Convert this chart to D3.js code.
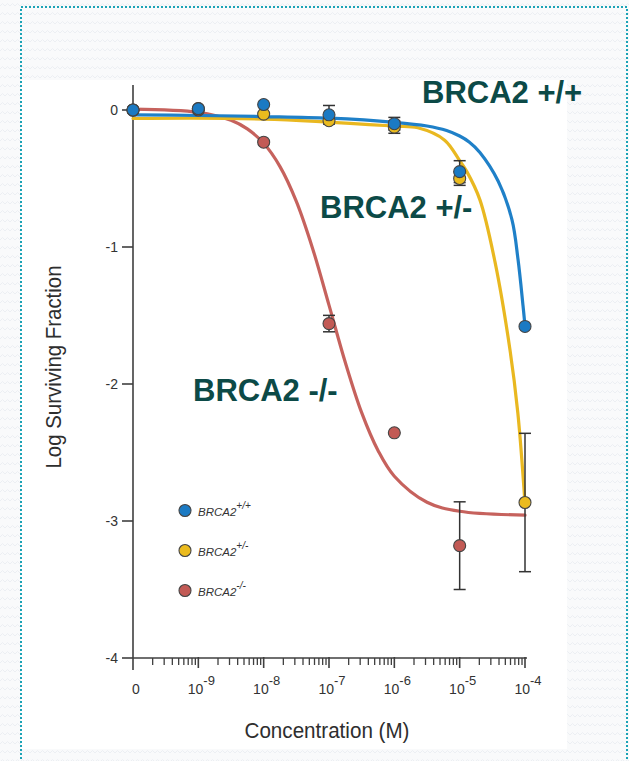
<!DOCTYPE html>
<html>
<head>
<meta charset="utf-8">
<script src="https://cdn.jsdelivr.net/npm/d3@7/dist/d3.min.js"></script>
<style>
  html, body { margin: 0; padding: 0; background: #ffffff; }
  svg { display: block; }
  text { font-family: "Liberation Sans", Arial, Helvetica, sans-serif; }
</style>
</head>
<body>
<svg id="chart" width="629" height="761"></svg>
<script>
// Concentrations tested (M); the lowest is the untreated control, labelled "0"
const concentrations = [1e-10, 1e-9, 1e-8, 1e-7, 1e-6, 1e-5, 1e-4];
const xTickBase = ["0", "10", "10", "10", "10", "10", "10"];
const xTickExp = ["", "-9", "-8", "-7", "-6", "-5", "-4"];
const yTicks = [0, -1, -2, -3, -4];

// Measured log surviving fraction (mean) and error per genotype
const wtValues  = [0, 0.01, 0.04, -0.035, -0.10, -0.45, -1.58];
const wtErrors  = [0, 0, 0, 0.068, 0.046, 0.08, 0];
const hetValues = [0, 0.01, -0.03, -0.078, -0.125, -0.50, -2.865];
const hetErrors = [0, 0, 0, 0, 0.045, 0.05, 0.505];
const nullValues = [0, 0.0, -0.235, -1.559, -2.356, -3.18];
const nullErrors = [0, 0, 0, 0.06, 0, 0.32];

// Fitted dose-response curves: log10(concentration) and log surviving fraction
const wtCurveLogC   = [-10, -9, -8, -7, -6, -5.5, -5.2, -5.0, -4.85, -4.69, -4.41, -4.2, -4.107, -4.03, -4.0];
const wtCurveValues = [-0.035, -0.04, -0.048, -0.06, -0.09, -0.117, -0.15, -0.19, -0.235, -0.31, -0.52, -0.80, -1.09, -1.43, -1.575];
const hetCurveLogC   = [-10, -8, -6, -5.64, -5.23, -5.0, -4.89, -4.69, -4.46, -4.23, -4.11, -4.0];
const hetCurveValues = [-0.062, -0.066, -0.117, -0.13, -0.22, -0.37, -0.45, -0.656, -1.107, -1.75, -2.21, -2.87];
const nullCurveLogC   = [-10, -9, -8.5, -8.25, -8.0, -7.75, -7.5, -7.25, -7.0, -6.75, -6.5, -6.25, -6.0, -5.5, -5.0, -4.0];
const nullCurveValues = [0.007, -0.017, -0.075, -0.138, -0.243, -0.413, -0.667, -1.012, -1.424, -1.843, -2.209, -2.485, -2.673, -2.863, -2.929, -2.957];

const genotypes = ["+/+", "+/-", "-/-"];
const annotations = ["BRCA2 +/+", "BRCA2 +/-", "BRCA2 -/-"];

const pointColors = ["#1b7ac3", "#ebbb1e", "#c25a55"];
const curveColors = ["#1f80c8", "#e9b820", "#c6625d"];

const svg = d3.select("#chart");
const W = 629, H = 761;

// Background: soft wave texture, white panel, dotted frame
const defs = svg.append("defs");
const pat = defs.append("pattern")
  .attr("id", "waves").attr("patternUnits", "userSpaceOnUse")
  .attr("width", 10).attr("height", 9);
pat.append("rect").attr("width", 10).attr("height", 9).attr("fill", "#f9fafb");
pat.append("path").attr("d", "M0,6 L2.5,3.5 L5,6 L7.5,3.5 L10,6")
  .attr("fill", "none").attr("stroke", "#eceff3").attr("stroke-width", 1);

svg.append("rect").attr("width", W).attr("height", H).attr("fill", "url(#waves)");
svg.append("rect").attr("x", 21).attr("y", 80).attr("width", 546).attr("height", 669).attr("fill", "#ffffff");
svg.append("rect").attr("x", 21).attr("y", 7).attr("width", 606).attr("height", 800)
  .attr("fill", "none").attr("stroke", "#1ba3b6").attr("stroke-width", 2)
  .attr("stroke-dasharray", "2,2");

// Scales
const x = d3.scaleLog().domain([1e-10, 1e-4]).range([133, 525]);
const y = d3.scaleLinear().domain([0, -4]).range([110, 658]);

const axisColor = "#3f3f3f";
const g = svg.append("g");

// Y axis
g.append("line")
  .attr("x1", x(1e-10)).attr("x2", x(1e-10))
  .attr("y1", y(0) - 25).attr("y2", y(-4) + 12)
  .attr("stroke", axisColor).attr("stroke-width", 1.6);
g.selectAll(".ytick").data(yTicks).join("line")
  .attr("x1", x(1e-10) - 11).attr("x2", x(1e-10))
  .attr("y1", d => y(d)).attr("y2", d => y(d))
  .attr("stroke", axisColor).attr("stroke-width", 1.6);
g.selectAll(".ylab").data(yTicks).join("text")
  .attr("x", x(1e-10) - 15).attr("y", d => y(d) + 5)
  .attr("text-anchor", "end").attr("font-size", 14).attr("fill", "#333")
  .text(d => d === 0 ? "0" : "-" + Math.abs(d));

// X axis (log, with minor ticks)
g.append("line")
  .attr("x1", x(1e-10)).attr("x2", x(1e-4) + 2)
  .attr("y1", y(-4)).attr("y2", y(-4))
  .attr("stroke", axisColor).attr("stroke-width", 1.6);
const minors = [];
concentrations.slice(0, -1).forEach(c => { for (let k = 2; k <= 9; k++) minors.push(c * k); });
g.selectAll(".xminor").data(minors).join("line")
  .attr("x1", d => x(d)).attr("x2", d => x(d))
  .attr("y1", y(-4)).attr("y2", y(-4) + 7)
  .attr("stroke", axisColor).attr("stroke-width", 1.3);
g.selectAll(".xmajor").data(concentrations.slice(1)).join("line")
  .attr("x1", d => x(d)).attr("x2", d => x(d))
  .attr("y1", y(-4) - 1).attr("y2", y(-4) + 10)
  .attr("stroke", axisColor).attr("stroke-width", 1.6);
const xl = g.selectAll(".xlab").data(concentrations).join("text")
  .attr("x", d => x(d) + 3).attr("y", y(-4) + 36)
  .attr("text-anchor", "middle").attr("font-size", 14).attr("fill", "#333");
xl.append("tspan").text((d, i) => xTickBase[i]);
xl.append("tspan").attr("dy", -9).attr("font-size", 13).text((d, i) => xTickExp[i]);

// Axis titles
g.append("text")
  .attr("transform", `translate(60.5,${(y(0) + y(-4)) / 2 - 17}) rotate(-90)`)
  .attr("text-anchor", "middle").attr("font-size", 22).attr("fill", "#2e2e2e")
  .attr("textLength", 203).attr("lengthAdjust", "spacingAndGlyphs")
  .text("Log Surviving Fraction");
g.append("text")
  .attr("x", (x(1e-10) + x(1e-4)) / 2 - 2).attr("y", 738)
  .attr("text-anchor", "middle").attr("font-size", 22).attr("fill", "#2e2e2e")
  .attr("textLength", 165).attr("lengthAdjust", "spacingAndGlyphs")
  .text("Concentration (M)");

// Series
const series = [
  { values: nullValues, errors: nullErrors, logC: nullCurveLogC, curve: nullCurveValues, i: 2 },
  { values: hetValues,  errors: hetErrors,  logC: hetCurveLogC,  curve: hetCurveValues,  i: 1 },
  { values: wtValues,   errors: wtErrors,   logC: wtCurveLogC,   curve: wtCurveValues,   i: 0 }
];

const line = d3.line()
  .x(d => x(Math.pow(10, d[0])))
  .y(d => y(d[1]))
  .curve(d3.curveCatmullRom.alpha(0.5));

const curveLayer = svg.append("g");
const errLayer = svg.append("g");
const pointLayer = svg.append("g");

series.forEach(s => {
  const pts = s.logC.map((lc, k) => [lc, s.curve[k]]);
  curveLayer.append("path")
    .attr("d", line(pts))
    .attr("fill", "none")
    .attr("stroke", curveColors[s.i])
    .attr("stroke-width", 3.2)
    .attr("stroke-linecap", "round");

  const data = s.values.map((v, k) => ({ c: concentrations[k], v, e: s.errors[k] }));
  const withErr = data.filter(d => d.e > 0);
  const eg = errLayer.selectAll(null).data(withErr).join("g")
    .attr("stroke", "#333").attr("stroke-width", 1.5);
  eg.append("line")
    .attr("x1", d => x(d.c)).attr("x2", d => x(d.c))
    .attr("y1", d => y(d.v + d.e)).attr("y2", d => y(d.v - d.e));
  eg.append("line")
    .attr("x1", d => x(d.c) - 6).attr("x2", d => x(d.c) + 6)
    .attr("y1", d => y(d.v + d.e)).attr("y2", d => y(d.v + d.e));
  eg.append("line")
    .attr("x1", d => x(d.c) - 6).attr("x2", d => x(d.c) + 6)
    .attr("y1", d => y(d.v - d.e)).attr("y2", d => y(d.v - d.e));

  pointLayer.selectAll(null).data(data).join("circle")
    .attr("cx", d => x(d.c)).attr("cy", d => y(d.v)).attr("r", 6)
    .attr("fill", pointColors[s.i])
    .attr("stroke", "#444").attr("stroke-width", 1.1);
});

// Legend
const legend = svg.append("g");
const legendY = [510.5, 550.5, 590.5];
genotypes.forEach((gt, i) => {
  legend.append("circle")
    .attr("cx", 185).attr("cy", legendY[i]).attr("r", 6)
    .attr("fill", pointColors[i]).attr("stroke", "#444").attr("stroke-width", 1.1);
  const t = legend.append("text")
    .attr("x", 198).attr("y", legendY[i] + 5)
    .attr("font-size", 11.5).attr("font-style", "italic").attr("fill", "#333");
  t.append("tspan").text("BRCA2");
  t.append("tspan").attr("dy", -7).attr("font-size", 10).text(gt);
});

// Genotype annotations
const annoPos = [[422, 103], [320, 218], [193, 401]];
svg.append("g").selectAll("text").data(annotations).join("text")
  .attr("x", (d, i) => annoPos[i][0]).attr("y", (d, i) => annoPos[i][1])
  .attr("font-size", 31).attr("font-weight", "bold").attr("fill", "#0c4a47")
  .text(d => d);
</script>
</body>
</html>
